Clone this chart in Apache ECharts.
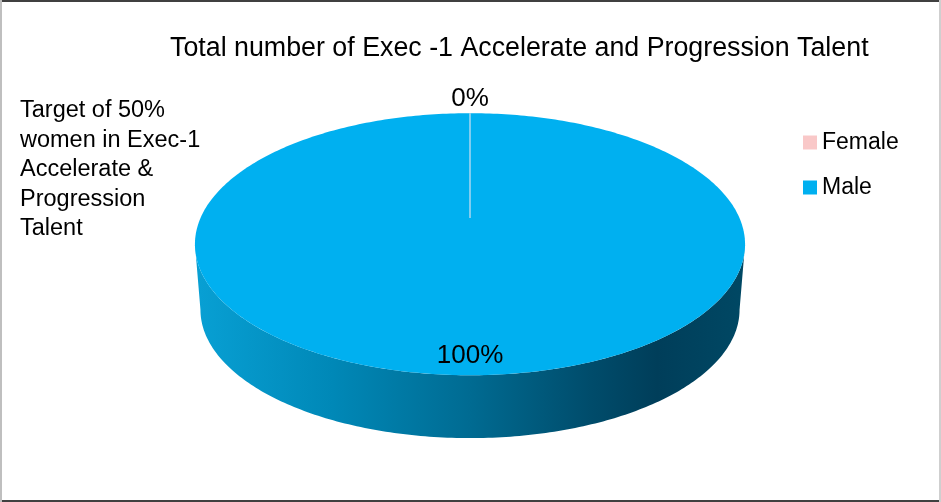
<!DOCTYPE html>
<html>
<head>
<meta charset="utf-8">
<script src="https://cdn.jsdelivr.net/npm/echarts@6/dist/echarts.min.js"></script>
<style>
  html, body { margin: 0; padding: 0; background: #fff; }
  #chart { width: 941px; height: 502px; }
</style>
</head>
<body>
<div id="chart"></div>
<script>
// Talent split by gender (percent of total)
const categories = ['Female', 'Male'];
const values = [0, 100];
const sliceColors = ['#f9c8c8', '#00b0f0'];

const titleText = 'Total number of Exec -1 Accelerate and Progression Talent';
const noteText = 'Target of 50%\nwomen in Exec-1\nAccelerate &\nProgression\nTalent';

// 3D pie geometry (simple perspective tilt)
const CX = 470, CY = 218;       // centre of the top face
const RX = 269.5, RY = 125.8;   // radii of the top face
const K = 0.2;                  // perspective strength (far side smaller)
const DEPTH = 66;               // vertical offset of the bottom face
const BOTTOM_SCALE = 0.98;      // bottom face slightly smaller

const total = values.reduce((a, b) => a + b, 0);
const startAngles = [];
(function () {
  let acc = 0;
  values.forEach(v => { startAngles.push(acc / total * Math.PI * 2); acc += v; });
})();

// theta measured clockwise from 12 o'clock
function proj(theta, r, bottom) {
  const u = r * Math.sin(theta), v = r * Math.cos(theta);
  const s = 1 / (1 + K * v);
  const sc = bottom ? BOTTOM_SCALE : 1;
  const cy = bottom ? CY + DEPTH : CY;
  return [CX + RX * sc * u * s, cy - RY * sc * v * s];
}

const FRONT_R = Math.acos(-K);            // right silhouette
const FRONT_L = Math.PI * 2 - FRONT_R;    // left silhouette

const wallFill = {
  type: 'linear', x: 195, y: 0, x2: 745, y2: 0, global: true,
  colorStops: [
    { offset: 0, color: '#08a0d4' },
    { offset: 0.25, color: '#0088b7' },
    { offset: 0.5, color: '#006b92' },
    { offset: 0.72, color: '#004c6b' },
    { offset: 0.84, color: '#003e5a' },
    { offset: 1, color: '#004864' }
  ]
};

function renderSlice(params, api) {
  const i = params.seriesIndex;
  const v = api.value(0);
  const a1 = startAngles[i];
  const a2 = a1 + v / total * Math.PI * 2;
  const children = [];
  const pct = Math.round(v / total * 100) + '%';

  if (v > 0) {
    // side wall (front-facing part)
    const lo = Math.max(a1, FRONT_R), hi = Math.min(a2, FRONT_L);
    if (hi > lo) {
      const pts = [];
      const n = 200;
      for (let k = 0; k <= n; k++) pts.push(proj(lo + (hi - lo) * k / n, 1, false));
      for (let k = n; k >= 0; k--) pts.push(proj(lo + (hi - lo) * k / n, 1, true));
      children.push({ type: 'polygon', shape: { points: pts }, style: { fill: wallFill } });
    }
    // top face
    const top = [];
    const full = (a2 - a1) >= Math.PI * 2 - 1e-9;
    if (!full) top.push(proj(0, 0, false));
    const m = 360;
    for (let k = 0; k <= m; k++) top.push(proj(a1 + (a2 - a1) * k / m, 1, false));
    children.push({ type: 'polygon', shape: { points: top }, style: { fill: sliceColors[i] } });
    // radial edge at slice start
    const c = proj(a1, 0, false), e = proj(a1, 1, false);
    children.push({
      type: 'line',
      shape: { x1: c[0], y1: c[1], x2: e[0], y2: e[1] },
      style: { stroke: 'rgba(200,222,238,0.85)', lineWidth: 1.5 }
    });
  }

  // data label
  const mid = (a1 + a2) / 2;
  const lp = v > 0 ? proj(mid, 0.9, false) : proj(mid, 1.17, false);
  children.push({
    type: 'text',
    style: {
      text: pct, x: lp[0], y: lp[1],
      fill: '#000', fontSize: 26, fontFamily: '"Liberation Sans", Arial, sans-serif',
      align: 'center', verticalAlign: 'middle'
    },
    z2: 10
  });
  return { type: 'group', children: children };
}

const chart = echarts.init(document.getElementById('chart'), null, { renderer: 'canvas' });

chart.setOption({
  animation: false,
  backgroundColor: '#fff',
  title: [
    {
      text: titleText, left: 170, top: 35, padding: 0,
      textStyle: { fontSize: 26.8, fontWeight: 'normal', color: '#000', fontFamily: '"Liberation Sans", Arial, sans-serif' }
    },
    {
      text: noteText, left: 20, top: 96, padding: 0,
      textStyle: { fontSize: 23.5, lineHeight: 29.5, fontWeight: 'normal', color: '#000', fontFamily: '"Liberation Sans", Arial, sans-serif' }
    }
  ],
  legend: {
    orient: 'vertical', left: 803, top: 131, padding: 0,
    itemWidth: 14, itemHeight: 14, itemGap: 22, icon: 'rect',
    data: categories,
    textStyle: { fontSize: 23, lineHeight: 23, color: '#000', fontFamily: '"Liberation Sans", Arial, sans-serif', padding: [0, 0, 0, 0] }
  },
  graphic: [
    { type: 'rect', shape: { x: 0, y: 0, width: 941, height: 2 }, style: { fill: '#404040' }, silent: true },
    { type: 'rect', shape: { x: 0, y: 500, width: 941, height: 2 }, style: { fill: '#404040' }, silent: true },
    { type: 'rect', shape: { x: 0, y: 0, width: 2, height: 502 }, style: { fill: '#bfbfbf' }, silent: true },
    { type: 'rect', shape: { x: 939, y: 0, width: 2, height: 502 }, style: { fill: '#cfcfcf' }, silent: true }
  ],
  series: categories.map((name, i) => ({
    type: 'custom',
    name: name,
    coordinateSystem: 'none',
    itemStyle: { color: sliceColors[i] },
    renderItem: renderSlice,
    data: [[values[i]]]
  }))
});
</script>
</body>
</html>
